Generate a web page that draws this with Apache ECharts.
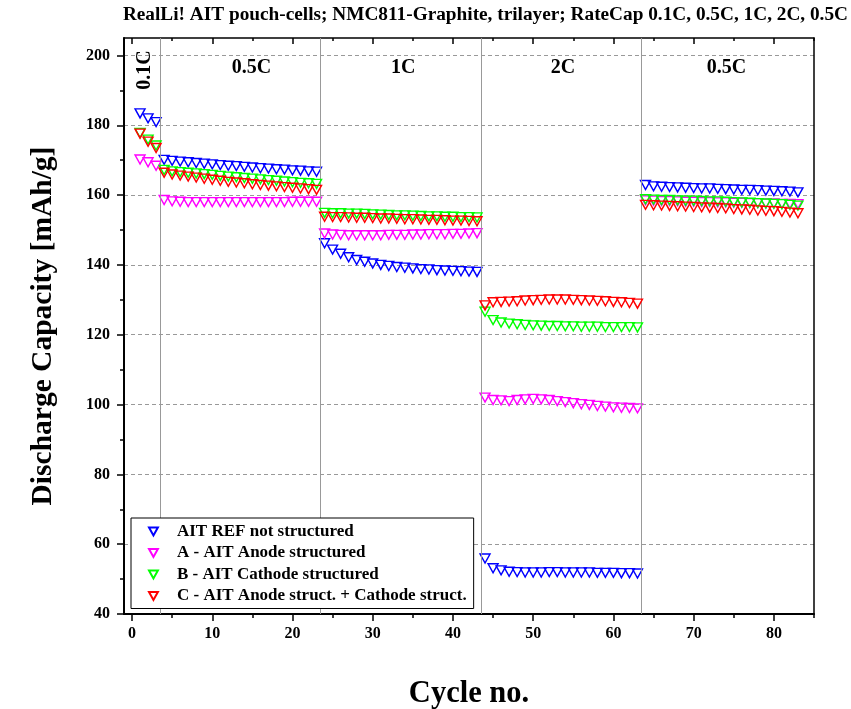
<!DOCTYPE html>
<html>
<head>
<meta charset="utf-8">
<script src="https://cdn.jsdelivr.net/npm/echarts@6/dist/echarts.min.js"></script>
<style>html,body{margin:0;padding:0;background:#fff}#c{width:851px;height:709px}</style>
</head>
<body>
<div id="c"></div>
<script>
// ---- data ----
const titleText = 'RealLi! AIT pouch-cells; NMC811-Graphite, trilayer; RateCap 0.1C, 0.5C, 1C, 2C, 0.5C';
const seriesNames = ['AIT REF not structured', 'A - AIT Anode structured', 'B - AIT Cathode structured', 'C - AIT Anode struct. + Cathode struct.'];
const seriesColors = ['#0000ff', '#ff00ff', '#00ff00', '#ff0000'];
const cycles = [];
for (let i = 1; i <= 83; i++) cycles.push(i);

const refValues = [
  183.4, 182.0, 180.9,
  170.1, 169.8, 169.6, 169.4, 169.2, 169.0, 168.8, 168.6, 168.4, 168.3, 168.1, 167.9, 167.7, 167.6, 167.4, 167.3, 167.1, 167.0, 166.8, 166.7,
  146.2, 144.4, 143.2, 142.2, 141.4, 140.9, 140.4, 140.0, 139.7, 139.4, 139.2, 139.0, 138.8, 138.7, 138.5, 138.4, 138.3, 138.2, 138.1, 138.0,
  55.9, 53.1, 52.5, 52.1, 52.0, 51.9, 51.9, 51.9, 52.0, 52.0, 51.9, 51.9, 51.9, 51.9, 51.8, 51.8, 51.8, 51.7, 51.7, 51.6,
  162.9, 162.5, 162.4, 162.3, 162.2, 162.1, 162.0, 161.9, 161.9, 161.8, 161.7, 161.6, 161.5, 161.5, 161.4, 161.3, 161.2, 161.1, 161.0, 160.8
];
const anodeValues = [
  170.2, 169.4, 168.4,
  158.6, 158.2, 158.1, 158.0, 158.0, 158.0, 158.0, 158.0, 158.0, 158.0, 158.0, 158.0, 158.0, 158.0, 158.0, 158.0, 158.1, 158.1, 158.1, 158.1,
  149.0, 148.7, 148.6, 148.5, 148.5, 148.5, 148.5, 148.5, 148.6, 148.6, 148.6, 148.7, 148.7, 148.8, 148.8, 148.8, 148.9, 148.9, 149.0, 149.1,
  102.0, 101.3, 101.2, 101.0, 101.3, 101.5, 101.6, 101.5, 101.3, 101.0, 100.7, 100.4, 100.1, 99.9, 99.6, 99.4, 99.2, 99.1, 99.0, 98.9,
  158.5, 158.4, 158.3, 158.3, 158.2, 158.1, 158.1, 158.0, 158.0, 157.9, 157.9, 157.8, 157.8, 157.7, 157.7, 157.6, 157.6, 157.5, 157.5, 157.4
];
const cathodeValues = [
  177.8, 175.9, 174.2,
  167.2, 166.8, 166.6, 166.4, 166.2, 166.0, 165.8, 165.5, 165.3, 165.1, 164.9, 164.7, 164.5, 164.3, 164.1, 163.9, 163.7, 163.5, 163.4, 163.2,
  154.9, 154.8, 154.8, 154.7, 154.7, 154.6, 154.5, 154.4, 154.3, 154.2, 154.2, 154.1, 154.0, 153.9, 153.9, 153.8, 153.8, 153.7, 153.7, 153.6,
  126.6, 124.2, 123.5, 123.2, 123.0, 122.8, 122.7, 122.6, 122.5, 122.5, 122.4, 122.4, 122.3, 122.3, 122.3, 122.2, 122.2, 122.2, 122.2, 122.1,
  158.8, 158.7, 158.6, 158.6, 158.5, 158.4, 158.4, 158.3, 158.2, 158.2, 158.1, 158.0, 157.9, 157.8, 157.7, 157.6, 157.5, 157.4, 157.2, 157.0
];
const bothValues = [
  177.6, 175.3, 173.5,
  166.4, 165.9, 165.6, 165.3, 165.0, 164.7, 164.4, 164.1, 163.8, 163.6, 163.4, 163.1, 162.9, 162.7, 162.5, 162.3, 162.1, 161.9, 161.7, 161.5,
  153.8, 153.7, 153.7, 153.6, 153.5, 153.5, 153.4, 153.3, 153.3, 153.2, 153.1, 153.1, 153.0, 152.9, 152.9, 152.8, 152.7, 152.7, 152.6, 152.5,
  128.4, 129.3, 129.4, 129.5, 129.6, 129.8, 129.9, 130.0, 130.1, 130.1, 130.1, 130.0, 129.9, 129.8, 129.7, 129.6, 129.4, 129.3, 129.1, 128.9,
  157.2, 157.1, 157.0, 156.9, 156.8, 156.7, 156.6, 156.5, 156.4, 156.3, 156.2, 156.0, 155.9, 155.8, 155.6, 155.5, 155.4, 155.2, 155.0, 154.8
];
const allValues = [refValues, anodeValues, cathodeValues, bothValues];

const separatorCycles = [3.5, 23.5, 43.5, 63.5];
const rateLabels = ['0.1C', '0.5C', '1C', '2C', '0.5C'];
const rateLabelX = [1.6, 14.9, 33.8, 53.7, 74.1];
const rateLabelY = [195.8, 196.4, 196.4, 196.4, 196.4];
const rateLabelRotate = [90, 0, 0, 0, 0];

const xMajorTicks = [0, 10, 20, 30, 40, 50, 60, 70, 80];
const xMinorTicks = [5, 15, 25, 35, 45, 55, 65, 75, 85];
const yMajorTicks = [40, 60, 80, 100, 120, 140, 160, 180, 200];
const yMinorTicks = [50, 70, 90, 110, 130, 150, 170, 190];

// ---- chart ----
const FONT = '"Liberation Serif", "Times New Roman", serif';
const DOWN_TRIANGLE = 'path://M0,0 L10,0 L5,9 Z';
const chart = echarts.init(document.getElementById('c'), null, {renderer: 'canvas'});

const series = allValues.map((vals, si) => ({
  name: seriesNames[si],
  type: 'scatter',
  xAxisIndex: 0, yAxisIndex: 0,
  symbol: DOWN_TRIANGLE,
  symbolSize: [10, 9],
  itemStyle: {color: 'rgba(0,0,0,0)', borderColor: seriesColors[si], borderWidth: 1.4, opacity: 1},
  data: cycles.map((c, i) => [c, vals[i]]),
  z: 3 + si
}));

// separators
series.push({
  type: 'line', xAxisIndex: 0, yAxisIndex: 0, data: [], silent: true,
  markLine: {
    silent: true, symbol: ['none', 'none'], label: {show: false},
    lineStyle: {color: '#999', type: 'solid', width: 1},
    data: separatorCycles.map(v => ({xAxis: v}))
  },
  z: 1
});

// rate labels
series.push({
  type: 'scatter', xAxisIndex: 0, yAxisIndex: 0, silent: true,
  symbolSize: 1, itemStyle: {color: 'rgba(0,0,0,0)', opacity: 1},
  data: rateLabels.map((t, i) => ({
    value: [rateLabelX[i], rateLabelY[i]],
    label: {show: true, position: 'inside', formatter: t, rotate: rateLabelRotate[i],
      fontFamily: FONT, fontWeight: 'bold', fontSize: 20, color: '#000',
      textBorderWidth: 0, textBorderColor: 'transparent'}
  })),
  z: 10
});

const tickLabelStyle = {fontFamily: FONT, fontWeight: 'bold', fontSize: 16, color: '#000'};

chart.setOption({
  animation: false,
  backgroundColor: '#fff',
  title: {
    text: titleText, right: 3, top: 6, padding: 0,
    textStyle: {fontFamily: FONT, fontWeight: 'bold', fontSize: 19.3, color: '#000'}
  },
  grid: {left: 124, right: 37, top: 38, bottom: 95, outerBoundsMode: 'none', containLabel: false},
  legend: {
    data: seriesNames,
    orient: 'vertical', left: 131, top: 518, z: 20,
    padding: [5, 7, 4, 17], itemGap: 4.5, itemWidth: 9, itemHeight: 8,
    backgroundColor: '#fff', borderColor: '#000', borderWidth: 1,
    textStyle: {fontFamily: FONT, fontWeight: 'bold', fontSize: 17, color: '#000', padding: [0, 0, 0, 14]}
  },
  xAxis: [
    {
      type: 'value', position: 'bottom', min: -1, max: 85,
      axisLine: {show: true, onZero: false, lineStyle: {color: '#000', width: 2}},
      axisTick: {show: true, inside: false, length: 7, customValues: xMajorTicks, lineStyle: {color: '#000', width: 1.5}},
      axisLabel: Object.assign({customValues: xMajorTicks, margin: 12}, tickLabelStyle),
      splitLine: {show: false},
      name: 'Cycle no.', nameLocation: 'middle', nameGap: 65,
      nameTextStyle: {fontFamily: FONT, fontWeight: 'bold', fontSize: 30.5, color: '#000'}
    },
    {
      type: 'value', position: 'bottom', min: -1, max: 85,
      axisLine: {show: false, onZero: false},
      axisTick: {show: true, inside: false, length: 4, customValues: xMinorTicks, lineStyle: {color: '#000', width: 1.5}},
      axisLabel: {show: false}, splitLine: {show: false}
    },
    {
      type: 'value', position: 'top', min: -1, max: 85,
      axisLine: {show: true, onZero: false, lineStyle: {color: '#000', width: 1.5}},
      axisTick: {show: true, inside: true, length: 6, customValues: xMajorTicks, lineStyle: {color: '#000', width: 1.5}},
      axisLabel: {show: false}, splitLine: {show: false}
    },
    {
      type: 'value', position: 'top', min: -1, max: 85,
      axisLine: {show: false, onZero: false},
      axisTick: {show: true, inside: true, length: 3, customValues: xMinorTicks, lineStyle: {color: '#000', width: 1.5}},
      axisLabel: {show: false}, splitLine: {show: false}
    }
  ],
  yAxis: [
    {
      type: 'value', position: 'left', min: 40, max: 205, interval: 20,
      axisLine: {show: true, onZero: false, lineStyle: {color: '#000', width: 2}},
      axisTick: {show: true, inside: false, length: 7, customValues: yMajorTicks, lineStyle: {color: '#000', width: 1.5}},
      axisLabel: Object.assign({customValues: yMajorTicks, margin: 14}, tickLabelStyle),
      splitLine: {show: true, lineStyle: {color: '#999', type: [4, 3], width: 1}},
      name: 'Discharge Capacity [mAh/g]', nameLocation: 'middle', nameGap: 66,
      nameTextStyle: {fontFamily: FONT, fontWeight: 'bold', fontSize: 29.5, color: '#000'}
    },
    {
      type: 'value', position: 'left', min: 40, max: 205,
      axisLine: {show: false, onZero: false},
      axisTick: {show: true, inside: false, length: 4, customValues: yMinorTicks, lineStyle: {color: '#000', width: 1.5}},
      axisLabel: {show: false}, splitLine: {show: false}
    },
    {
      type: 'value', position: 'right', min: 40, max: 205,
      axisLine: {show: true, onZero: false, lineStyle: {color: '#000', width: 1.5}},
      axisTick: {show: false}, axisLabel: {show: false}, splitLine: {show: false}
    }
  ],
  series: series
});
</script>
</body>
</html>
